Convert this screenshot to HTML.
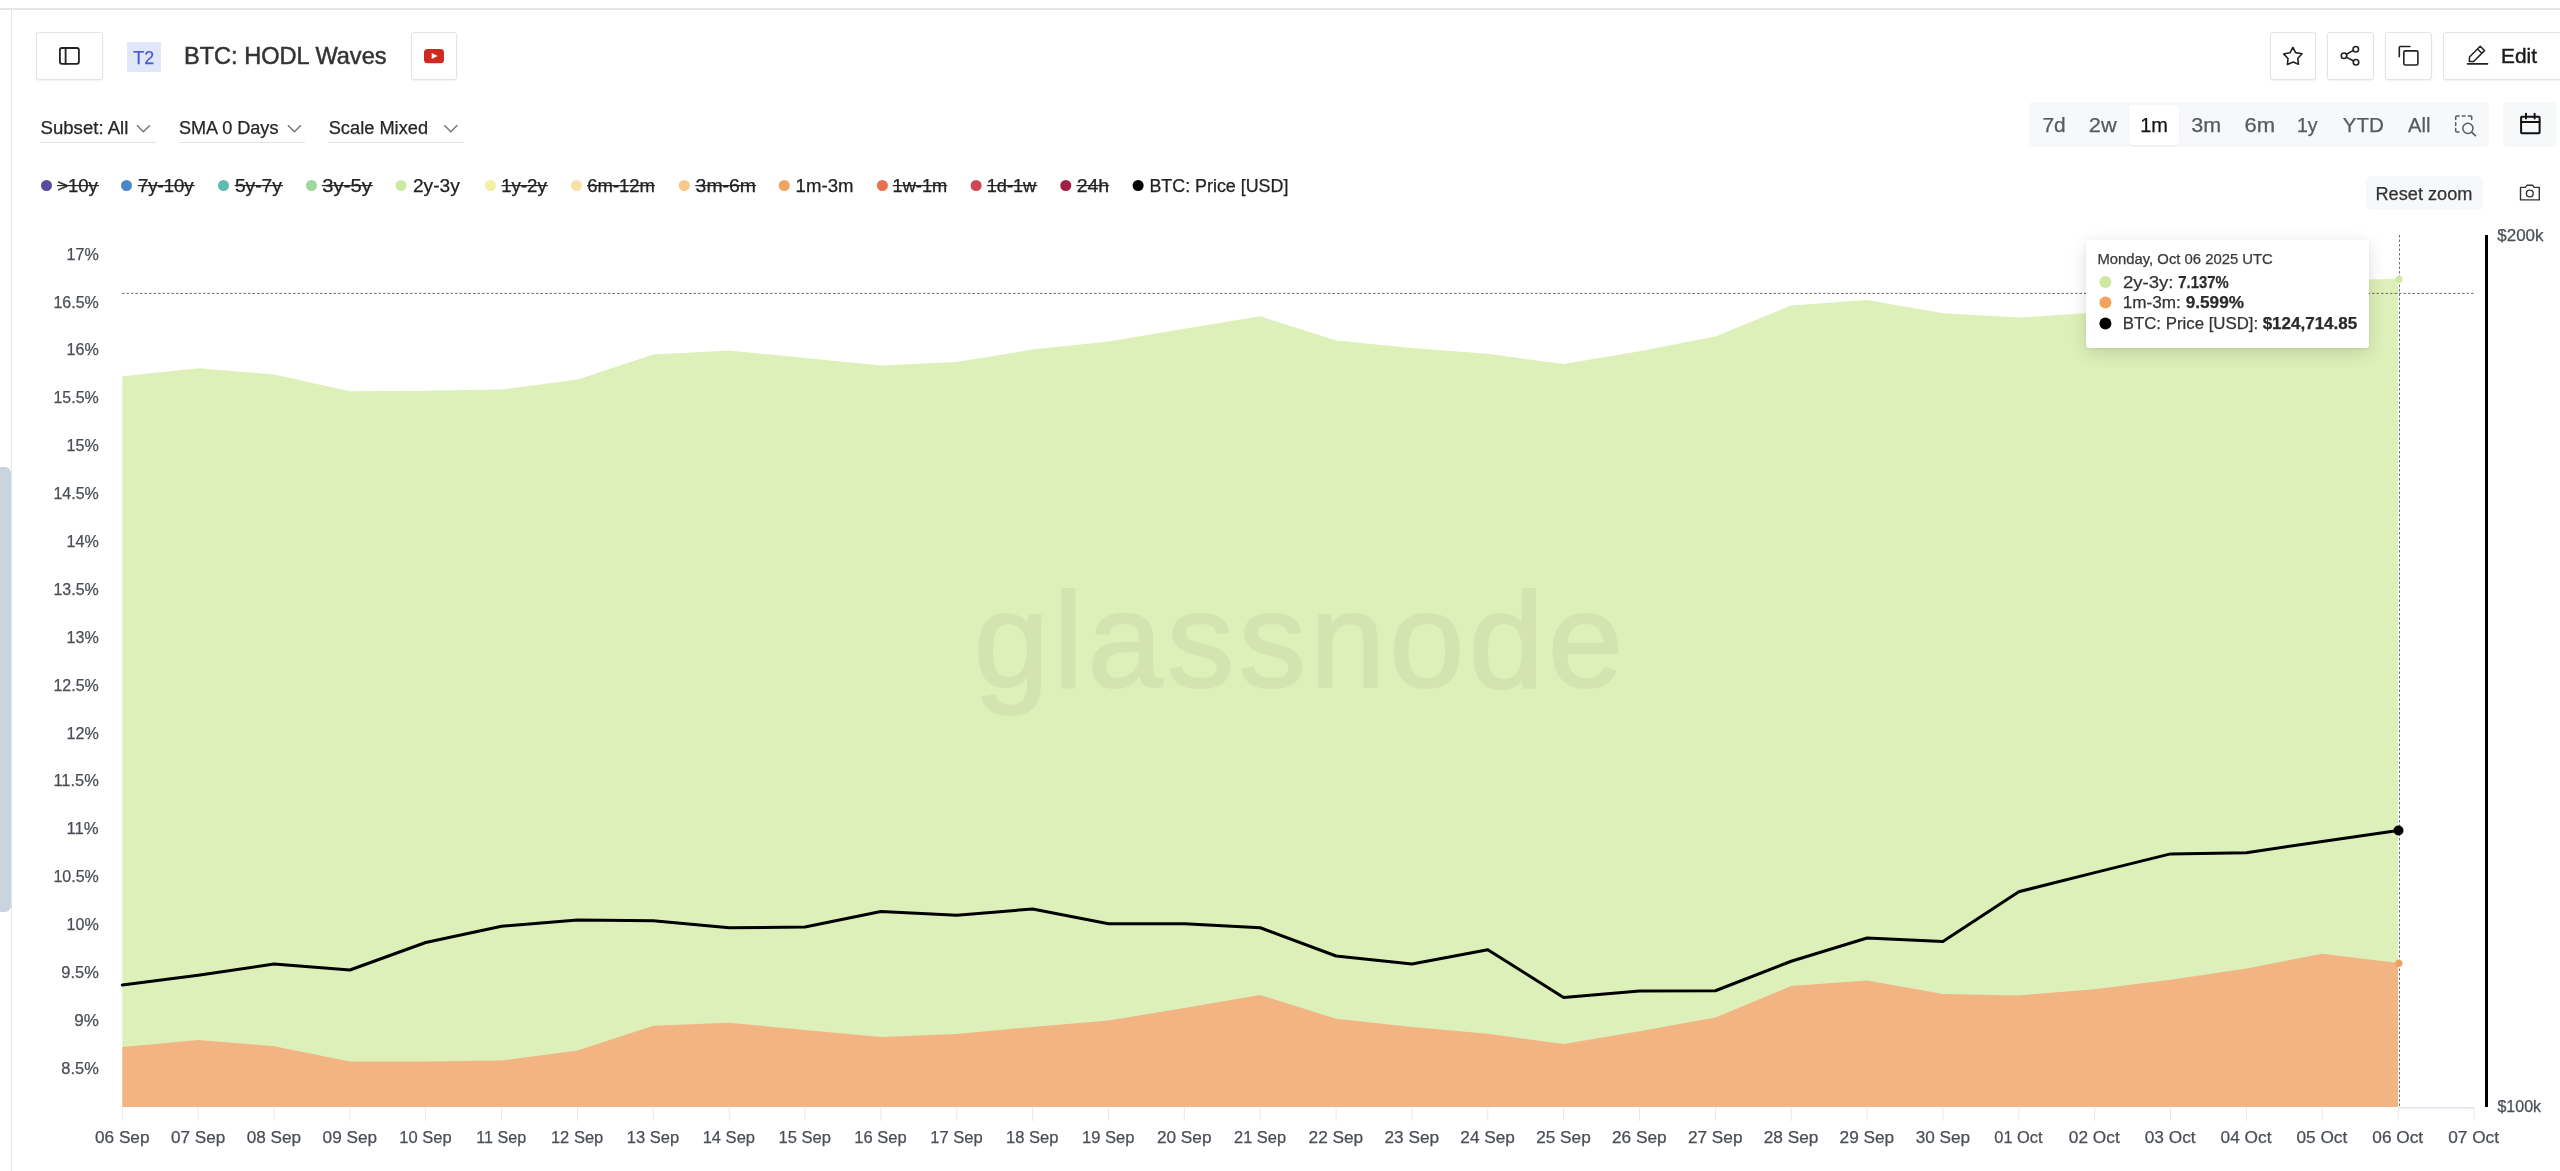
<!DOCTYPE html>
<html><head><meta charset="utf-8"><title>BTC: HODL Waves</title>
<style>
*{box-sizing:border-box;margin:0;padding:0}
html,body{width:2560px;height:1171px;overflow:hidden;background:#fff}
body{position:relative;font-family:"Liberation Sans",Arial,sans-serif;color:#222}
.abs{position:absolute}
.topline{position:absolute;left:0;top:8px;width:2560px;height:2px;background:#e6e6e6}
.leftline{position:absolute;left:11px;top:9px;width:1px;height:1162px;background:#e6e6e6}
.scroll{position:absolute;left:-6px;top:467px;width:17px;height:445px;background:#cad4de;border-radius:6px}
.btn{position:absolute;top:32px;height:48px;border:1px solid #e3e3e3;border-radius:3px;background:#fff;box-shadow:0 1px 2px rgba(0,0,0,.06)}
.btn svg{position:absolute}
.t2{position:absolute;left:127px;top:42px;width:34px;height:30px;background:#e1e6f9}
.sel{position:absolute;top:142px;height:1px;background:#e2e4e8}
.seg{position:absolute;left:2029px;top:102px;width:460px;height:45px;background:#f6f8fa;border-radius:4px}
.seg .act{position:absolute;left:100px;top:3px;width:50px;height:40px;background:#fff;border-radius:4px;box-shadow:0 1px 2px rgba(0,0,0,.06)}
.cal{position:absolute;left:2503px;top:102px;width:54px;height:45px;background:#f6f8fa;border-radius:4px}
.reset{position:absolute;left:2366px;top:176px;width:117px;height:34px;background:#f6f8fa;border-radius:5px}
.tip{position:absolute;left:2086px;top:240px;width:283px;height:108px;background:#fff;border-radius:3px;box-shadow:0 5px 18px rgba(0,0,0,.13),0 1px 3px rgba(0,0,0,.06)}
svg text{font-family:"Liberation Sans",Arial,sans-serif}
</style></head><body>
<div class="topline"></div>
<div class="leftline"></div>
<div class="scroll"></div>

<div class="btn" style="left:36px;width:67px"></div>
<div class="t2"></div>
<div class="btn" style="left:411px;width:46px"></div>

<div class="btn" style="left:2270px;width:46px"></div>
<div class="btn" style="left:2327px;width:47px"></div>
<div class="btn" style="left:2385px;width:47px"></div>
<div class="btn" style="left:2443px;width:140px"></div>

<div class="sel" style="left:40px;width:116px"></div>
<div class="sel" style="left:179px;width:126px"></div>
<div class="sel" style="left:328px;width:136px"></div>

<div class="seg"><div class="act"></div></div>
<div class="cal"></div>

<div class="reset"></div>

<svg class="abs" style="left:0;top:0" width="2560" height="1171" viewBox="0 0 2560 1171">
<polygon points="122.3,376.25 198.2,368.25 274.0,374.50 349.9,391.25 425.7,390.75 501.6,389.50 577.5,379.50 653.3,354.50 729.2,350.50 805.0,358.00 880.9,365.50 956.8,362.00 1032.6,349.50 1108.5,341.50 1184.3,328.75 1260.2,316.25 1336.1,340.50 1411.9,348.00 1487.8,353.75 1563.6,364.00 1639.5,351.25 1715.4,336.50 1791.2,305.50 1867.1,300.00 1942.9,313.30 2018.8,317.50 2094.7,312.50 2170.5,300.00 2246.4,290.00 2322.2,280.50 2398.1,278.80 2398.1,1107 122.3,1107" fill="#def0b9"/>
<polygon points="122.3,1047.00 198.2,1040.00 274.0,1046.25 349.9,1061.50 425.7,1061.50 501.6,1060.50 577.5,1050.50 653.3,1025.75 729.2,1022.75 805.0,1030.00 880.9,1037.00 956.8,1034.00 1032.6,1027.00 1108.5,1020.50 1184.3,1008.00 1260.2,995.00 1336.1,1018.75 1411.9,1027.00 1487.8,1033.75 1563.6,1044.00 1639.5,1031.25 1715.4,1017.50 1791.2,986.00 1867.1,980.50 1942.9,994.00 2018.8,995.40 2094.7,989.30 2170.5,979.80 2246.4,968.60 2322.2,953.80 2398.1,963.10 2398.1,1107 122.3,1107" fill="#f2b483"/>
<g opacity="0.045"><text x="974" y="687.3" font-size="135" fill="#000" stroke="#000" stroke-width="2.2" textLength="649" lengthAdjust="spacing">glassnode</text></g>
<polyline points="122.3,985.00 198.2,975.20 274.0,964.00 349.9,970.00 425.7,942.50 501.6,926.25 577.5,920.00 653.3,920.75 729.2,927.75 805.0,927.00 880.9,911.50 956.8,915.25 1032.6,909.00 1108.5,923.75 1184.3,923.75 1260.2,927.75 1336.1,956.00 1411.9,964.00 1487.8,949.75 1563.6,997.50 1639.5,991.00 1715.4,990.75 1791.2,961.25 1867.1,938.00 1942.9,941.50 2018.8,891.70 2094.7,872.60 2170.5,853.90 2246.4,852.70 2322.2,841.50 2398.1,830.50" fill="none" stroke="#000" stroke-width="3" stroke-linejoin="round" stroke-linecap="round"/>
<path d="M122 293.4H2474" stroke="#666" stroke-width="1" stroke-dasharray="2.5 2"/>
<path d="M2399.5 235V1107" stroke="#6b7080" stroke-width="1" stroke-dasharray="2.5 2"/>
<path d="M2398 1107.7H2474" stroke="#dfe5ec" stroke-width="1.5"/>
<path d="M122.3 1108V1121M198.2 1108V1121M274.0 1108V1121M349.9 1108V1121M425.7 1108V1121M501.6 1108V1121M577.5 1108V1121M653.3 1108V1121M729.2 1108V1121M805.0 1108V1121M880.9 1108V1121M956.8 1108V1121M1032.6 1108V1121M1108.5 1108V1121M1184.3 1108V1121M1260.2 1108V1121M1336.1 1108V1121M1411.9 1108V1121M1487.8 1108V1121M1563.6 1108V1121M1639.5 1108V1121M1715.4 1108V1121M1791.2 1108V1121M1867.1 1108V1121M1942.9 1108V1121M2018.8 1108V1121M2094.7 1108V1121M2170.5 1108V1121M2246.4 1108V1121M2322.2 1108V1121M2398.1 1108V1121M2474.0 1108V1121" stroke="#e3e8ee" stroke-width="1"/>
<rect x="2485" y="235" width="3" height="872" fill="#000"/>
<circle cx="2399" cy="279.3" r="3.6" fill="#cdeaa2"/>
<circle cx="2398.8" cy="963.3" r="3.6" fill="#f0a060"/>
<circle cx="2398.5" cy="830.5" r="5" fill="#000"/>
</svg>

<div class="tip"></div>

<svg class="abs" style="left:0;top:0;will-change:transform" width="2560" height="1171" viewBox="0 0 2560 1171">

<g fill="none" stroke-linejoin="round" stroke-linecap="round">
<rect x="59.9" y="48" width="19" height="15.8" rx="2" stroke="#222" stroke-width="1.8"/>
<path d="M65.6 48V63.8" stroke="#222" stroke-width="1.8"/>
<path d="M2292.9 47.4L2295.6 52.6L2302.1 53.8L2297.8 58.3L2298.4 64.2L2293.2 62L2287.4 64.4L2288 58.5L2283.6 54L2290 52.8Z" stroke="#222" stroke-width="1.6"/>
<circle cx="2355.8" cy="49.2" r="2.75" stroke="#222" stroke-width="1.6"/>
<circle cx="2344" cy="55.7" r="2.75" stroke="#222" stroke-width="1.6"/>
<circle cx="2356" cy="62.3" r="2.75" stroke="#222" stroke-width="1.6"/>
<path d="M2346.4 54.3L2353.4 50.4M2346.4 57.1L2353.6 61" stroke="#222" stroke-width="1.6"/>
<path d="M2399.3 56.7V47.5Q2399.3 46.5 2400.3 46.5H2409.9" stroke="#222" stroke-width="1.6"/>
<rect x="2403.8" y="50.9" width="14.1" height="14.05" rx="1.5" stroke="#222" stroke-width="1.6"/>
<path d="M2469.5 57L2480.2 46.3L2484.5 50.6L2473.6 61.5H2469.3Z M2477.6 49L2481.3 52.7" stroke="#222" stroke-width="1.5"/>
<path d="M2467.6 63.8H2487.4" stroke="#222" stroke-width="1.8"/>
<path d="M136.9 125.3L143.4 131.7L149.9 125.3M287.9 125.3L294.4 131.7L300.9 125.3M444.3 125.3L450.8 131.7L457.3 125.3" stroke="#777" stroke-width="1.5" stroke-linejoin="miter" stroke-linecap="butt"/>
<path d="M2455.7 119.5V116.9Q2455.7 115.9 2456.7 115.9H2459.1M2462.3 115.9H2465M2468.3 115.9H2470.7Q2471.7 115.9 2471.7 116.9V119.5M2455.7 122.8V125.4M2455.7 128.5V130.9Q2455.7 131.9 2456.7 131.9H2459" stroke="#555a60" stroke-width="1.5"/>
<circle cx="2467.9" cy="128.3" r="5.1" stroke="#555a60" stroke-width="1.5"/>
<path d="M2471.8 132.3L2475.4 135.6" stroke="#555a60" stroke-width="1.6"/>
<rect x="2521.1" y="116.7" width="18.5" height="16.6" rx="0.8" stroke="#111" stroke-width="2"/>
<path d="M2521.1 122H2539.6M2526 113.8V118.5M2534.6 113.8V118.5" stroke="#111" stroke-width="2"/>
<path d="M2520.5 187.4H2525.3L2527.1 185.3H2532.8L2534.1 187.4H2539.3V199.9H2520.5Z" stroke="#333" stroke-width="1.4"/>
<circle cx="2529.8" cy="193.5" r="3.4" stroke="#333" stroke-width="1.4"/>
</g>
<rect x="424" y="48.9" width="20" height="14.4" rx="3.5" fill="#d02a20"/>
<path d="M431.7 52.9L437.6 56L431.7 59Z" fill="#fff"/>

<circle cx="46.50" cy="185.5" r="5.5" fill="#5b4b9f"/>
<rect x="57.00" y="185" width="42.00" height="1.2" fill="#2a2a2a"/>
<circle cx="126.50" cy="185.5" r="5.5" fill="#4a86c8"/>
<rect x="137.75" y="185" width="57.00" height="1.2" fill="#2a2a2a"/>
<circle cx="223.50" cy="185.5" r="5.5" fill="#5cbcae"/>
<rect x="234.60" y="185" width="48.40" height="1.2" fill="#2a2a2a"/>
<circle cx="311.50" cy="185.5" r="5.5" fill="#9ed79f"/>
<rect x="322.00" y="185" width="50.90" height="1.2" fill="#2a2a2a"/>
<circle cx="401.10" cy="185.5" r="5.5" fill="#cbeaa0"/>
<circle cx="490.50" cy="185.5" r="5.5" fill="#f3f0a2"/>
<rect x="501.50" y="185" width="46.40" height="1.2" fill="#2a2a2a"/>
<circle cx="576.50" cy="185.5" r="5.5" fill="#f9e1a6"/>
<rect x="587.00" y="185" width="68.00" height="1.2" fill="#2a2a2a"/>
<circle cx="684.25" cy="185.5" r="5.5" fill="#f6c98a"/>
<rect x="695.25" y="185" width="60.75" height="1.2" fill="#2a2a2a"/>
<circle cx="784.25" cy="185.5" r="5.5" fill="#f2a35f"/>
<circle cx="882.40" cy="185.5" r="5.5" fill="#e8704d"/>
<rect x="892.75" y="185" width="54.50" height="1.2" fill="#2a2a2a"/>
<circle cx="976.10" cy="185.5" r="5.5" fill="#cf4654"/>
<rect x="986.90" y="185" width="50.50" height="1.2" fill="#2a2a2a"/>
<circle cx="1065.80" cy="185.5" r="5.5" fill="#a11e45"/>
<rect x="1076.50" y="185" width="32.50" height="1.2" fill="#2a2a2a"/>
<circle cx="1138.10" cy="185.5" r="5.5" fill="#000000"/>
<circle cx="2105.4" cy="281.9" r="6" fill="#cbeaa0"/><circle cx="2105.4" cy="302.6" r="6" fill="#f2a35f"/><circle cx="2105.4" cy="323.6" r="6" fill="#000"/>
<text x="133.37" y="63.60" font-size="19" textLength="20.85" lengthAdjust="spacingAndGlyphs" fill="#4b5bd0" stroke="#4b5bd0" stroke-width="0.25">T2</text>
<text x="183.96" y="64.00" font-size="24.4" textLength="202.60" lengthAdjust="spacingAndGlyphs" fill="#333333" stroke="#333333" stroke-width="0.5">BTC: HODL Waves</text>
<text x="2501.06" y="63.10" font-size="20.9" textLength="35.89" lengthAdjust="spacingAndGlyphs" fill="#1a1a1a" stroke="#1a1a1a" stroke-width="0.45">Edit</text>
<text x="40.49" y="133.80" font-size="18" textLength="87.89" lengthAdjust="spacingAndGlyphs" fill="#262626" stroke="#262626" stroke-width="0.25">Subset: All</text>
<text x="178.91" y="133.80" font-size="18" textLength="99.53" lengthAdjust="spacingAndGlyphs" fill="#262626" stroke="#262626" stroke-width="0.25">SMA 0 Days</text>
<text x="328.70" y="133.80" font-size="18" textLength="99.39" lengthAdjust="spacingAndGlyphs" fill="#262626" stroke="#262626" stroke-width="0.25">Scale Mixed</text>
<text x="2042.38" y="131.80" font-size="21" textLength="23.31" lengthAdjust="spacingAndGlyphs" fill="#555a60" stroke="#555a60" stroke-width="0.25">7d</text>
<text x="2088.83" y="131.80" font-size="21" textLength="27.90" lengthAdjust="spacingAndGlyphs" fill="#555a60" stroke="#555a60" stroke-width="0.25">2w</text>
<text x="2140.23" y="131.80" font-size="21" textLength="27.74" lengthAdjust="spacingAndGlyphs" fill="#111111" stroke="#111111" stroke-width="0.25">1m</text>
<text x="2191.36" y="131.80" font-size="21" textLength="29.89" lengthAdjust="spacingAndGlyphs" fill="#555a60" stroke="#555a60" stroke-width="0.25">3m</text>
<text x="2244.53" y="131.80" font-size="21" textLength="30.55" lengthAdjust="spacingAndGlyphs" fill="#555a60" stroke="#555a60" stroke-width="0.25">6m</text>
<text x="2296.96" y="131.80" font-size="21" textLength="20.66" lengthAdjust="spacingAndGlyphs" fill="#555a60" stroke="#555a60" stroke-width="0.25">1y</text>
<text x="2342.81" y="131.80" font-size="21" textLength="41.10" lengthAdjust="spacingAndGlyphs" fill="#555a60" stroke="#555a60" stroke-width="0.25">YTD</text>
<text x="2408.03" y="131.80" font-size="21" textLength="22.40" lengthAdjust="spacingAndGlyphs" fill="#555a60" stroke="#555a60" stroke-width="0.25">All</text>
<text x="57.20" y="191.60" font-size="18" textLength="40.69" lengthAdjust="spacingAndGlyphs" fill="#222222" stroke="#222222" stroke-width="0.25">&gt;10y</text>
<text x="137.95" y="191.60" font-size="18" textLength="55.70" lengthAdjust="spacingAndGlyphs" fill="#222222" stroke="#222222" stroke-width="0.25">7y-10y</text>
<text x="234.96" y="191.60" font-size="18" textLength="46.91" lengthAdjust="spacingAndGlyphs" fill="#222222" stroke="#222222" stroke-width="0.25">5y-7y</text>
<text x="322.32" y="191.60" font-size="18" textLength="49.44" lengthAdjust="spacingAndGlyphs" fill="#222222" stroke="#222222" stroke-width="0.25">3y-5y</text>
<text x="412.92" y="191.60" font-size="18" textLength="46.95" lengthAdjust="spacingAndGlyphs" fill="#222222" stroke="#222222" stroke-width="0.25">2y-3y</text>
<text x="501.23" y="191.60" font-size="18" textLength="45.55" lengthAdjust="spacingAndGlyphs" fill="#222222" stroke="#222222" stroke-width="0.25">1y-2y</text>
<text x="587.20" y="191.60" font-size="18" textLength="67.83" lengthAdjust="spacingAndGlyphs" fill="#222222" stroke="#222222" stroke-width="0.25">6m-12m</text>
<text x="695.60" y="191.60" font-size="18" textLength="60.45" lengthAdjust="spacingAndGlyphs" fill="#222222" stroke="#222222" stroke-width="0.25">3m-6m</text>
<text x="795.63" y="191.60" font-size="18" textLength="57.88" lengthAdjust="spacingAndGlyphs" fill="#222222" stroke="#222222" stroke-width="0.25">1m-3m</text>
<text x="892.51" y="191.60" font-size="18" textLength="54.72" lengthAdjust="spacingAndGlyphs" fill="#222222" stroke="#222222" stroke-width="0.25">1w-1m</text>
<text x="986.66" y="191.60" font-size="18" textLength="49.59" lengthAdjust="spacingAndGlyphs" fill="#222222" stroke="#222222" stroke-width="0.25">1d-1w</text>
<text x="1076.65" y="191.60" font-size="18" textLength="32.54" lengthAdjust="spacingAndGlyphs" fill="#222222" stroke="#222222" stroke-width="0.25">24h</text>
<text x="1149.40" y="191.60" font-size="18" textLength="139.00" lengthAdjust="spacingAndGlyphs" fill="#222222" stroke="#222222" stroke-width="0.25">BTC: Price [USD]</text>
<text x="2375.47" y="200.00" font-size="18" textLength="97.00" lengthAdjust="spacingAndGlyphs" fill="#333333" stroke="#333333" stroke-width="0.25">Reset zoom</text>
<text x="66.52" y="259.70" font-size="17" textLength="32.26" lengthAdjust="spacingAndGlyphs" fill="#4a4e55" stroke="#4a4e55" stroke-width="0.25">17%</text>
<text x="53.43" y="307.59" font-size="17" textLength="45.33" lengthAdjust="spacingAndGlyphs" fill="#4a4e55" stroke="#4a4e55" stroke-width="0.25">16.5%</text>
<text x="66.52" y="355.48" font-size="17" textLength="32.26" lengthAdjust="spacingAndGlyphs" fill="#4a4e55" stroke="#4a4e55" stroke-width="0.25">16%</text>
<text x="53.43" y="403.37" font-size="17" textLength="45.33" lengthAdjust="spacingAndGlyphs" fill="#4a4e55" stroke="#4a4e55" stroke-width="0.25">15.5%</text>
<text x="66.52" y="451.26" font-size="17" textLength="32.26" lengthAdjust="spacingAndGlyphs" fill="#4a4e55" stroke="#4a4e55" stroke-width="0.25">15%</text>
<text x="53.43" y="499.15" font-size="17" textLength="45.33" lengthAdjust="spacingAndGlyphs" fill="#4a4e55" stroke="#4a4e55" stroke-width="0.25">14.5%</text>
<text x="66.52" y="547.04" font-size="17" textLength="32.26" lengthAdjust="spacingAndGlyphs" fill="#4a4e55" stroke="#4a4e55" stroke-width="0.25">14%</text>
<text x="53.43" y="594.93" font-size="17" textLength="45.33" lengthAdjust="spacingAndGlyphs" fill="#4a4e55" stroke="#4a4e55" stroke-width="0.25">13.5%</text>
<text x="66.52" y="642.82" font-size="17" textLength="32.26" lengthAdjust="spacingAndGlyphs" fill="#4a4e55" stroke="#4a4e55" stroke-width="0.25">13%</text>
<text x="53.43" y="690.71" font-size="17" textLength="45.33" lengthAdjust="spacingAndGlyphs" fill="#4a4e55" stroke="#4a4e55" stroke-width="0.25">12.5%</text>
<text x="66.52" y="738.60" font-size="17" textLength="32.26" lengthAdjust="spacingAndGlyphs" fill="#4a4e55" stroke="#4a4e55" stroke-width="0.25">12%</text>
<text x="53.39" y="786.49" font-size="17" textLength="45.39" lengthAdjust="spacingAndGlyphs" fill="#4a4e55" stroke="#4a4e55" stroke-width="0.25">11.5%</text>
<text x="66.47" y="834.38" font-size="17" textLength="32.25" lengthAdjust="spacingAndGlyphs" fill="#4a4e55" stroke="#4a4e55" stroke-width="0.25">11%</text>
<text x="53.43" y="882.27" font-size="17" textLength="45.33" lengthAdjust="spacingAndGlyphs" fill="#4a4e55" stroke="#4a4e55" stroke-width="0.25">10.5%</text>
<text x="66.52" y="930.16" font-size="17" textLength="32.26" lengthAdjust="spacingAndGlyphs" fill="#4a4e55" stroke="#4a4e55" stroke-width="0.25">10%</text>
<text x="61.29" y="978.05" font-size="17" textLength="37.46" lengthAdjust="spacingAndGlyphs" fill="#4a4e55" stroke="#4a4e55" stroke-width="0.25">9.5%</text>
<text x="74.16" y="1025.94" font-size="17" textLength="24.62" lengthAdjust="spacingAndGlyphs" fill="#4a4e55" stroke="#4a4e55" stroke-width="0.25">9%</text>
<text x="61.29" y="1073.83" font-size="17" textLength="37.46" lengthAdjust="spacingAndGlyphs" fill="#4a4e55" stroke="#4a4e55" stroke-width="0.25">8.5%</text>
<text x="95.04" y="1142.70" font-size="16.9" textLength="54.41" lengthAdjust="spacingAndGlyphs" fill="#4a4e55" stroke="#4a4e55" stroke-width="0.25">06 Sep</text>
<text x="170.90" y="1142.70" font-size="16.9" textLength="54.41" lengthAdjust="spacingAndGlyphs" fill="#4a4e55" stroke="#4a4e55" stroke-width="0.25">07 Sep</text>
<text x="246.76" y="1142.70" font-size="16.9" textLength="54.41" lengthAdjust="spacingAndGlyphs" fill="#4a4e55" stroke="#4a4e55" stroke-width="0.25">08 Sep</text>
<text x="322.62" y="1142.70" font-size="16.9" textLength="54.41" lengthAdjust="spacingAndGlyphs" fill="#4a4e55" stroke="#4a4e55" stroke-width="0.25">09 Sep</text>
<text x="399.20" y="1142.70" font-size="16.9" textLength="52.40" lengthAdjust="spacingAndGlyphs" fill="#4a4e55" stroke="#4a4e55" stroke-width="0.25">10 Sep</text>
<text x="476.37" y="1142.70" font-size="16.9" textLength="49.82" lengthAdjust="spacingAndGlyphs" fill="#4a4e55" stroke="#4a4e55" stroke-width="0.25">11 Sep</text>
<text x="550.92" y="1142.70" font-size="16.9" textLength="52.40" lengthAdjust="spacingAndGlyphs" fill="#4a4e55" stroke="#4a4e55" stroke-width="0.25">12 Sep</text>
<text x="626.78" y="1142.70" font-size="16.9" textLength="52.40" lengthAdjust="spacingAndGlyphs" fill="#4a4e55" stroke="#4a4e55" stroke-width="0.25">13 Sep</text>
<text x="702.64" y="1142.70" font-size="16.9" textLength="52.40" lengthAdjust="spacingAndGlyphs" fill="#4a4e55" stroke="#4a4e55" stroke-width="0.25">14 Sep</text>
<text x="778.50" y="1142.70" font-size="16.9" textLength="52.40" lengthAdjust="spacingAndGlyphs" fill="#4a4e55" stroke="#4a4e55" stroke-width="0.25">15 Sep</text>
<text x="854.36" y="1142.70" font-size="16.9" textLength="52.40" lengthAdjust="spacingAndGlyphs" fill="#4a4e55" stroke="#4a4e55" stroke-width="0.25">16 Sep</text>
<text x="930.22" y="1142.70" font-size="16.9" textLength="52.40" lengthAdjust="spacingAndGlyphs" fill="#4a4e55" stroke="#4a4e55" stroke-width="0.25">17 Sep</text>
<text x="1006.08" y="1142.70" font-size="16.9" textLength="52.40" lengthAdjust="spacingAndGlyphs" fill="#4a4e55" stroke="#4a4e55" stroke-width="0.25">18 Sep</text>
<text x="1081.94" y="1142.70" font-size="16.9" textLength="52.40" lengthAdjust="spacingAndGlyphs" fill="#4a4e55" stroke="#4a4e55" stroke-width="0.25">19 Sep</text>
<text x="1156.90" y="1142.70" font-size="16.9" textLength="54.59" lengthAdjust="spacingAndGlyphs" fill="#4a4e55" stroke="#4a4e55" stroke-width="0.25">20 Sep</text>
<text x="1234.08" y="1142.70" font-size="16.9" textLength="51.98" lengthAdjust="spacingAndGlyphs" fill="#4a4e55" stroke="#4a4e55" stroke-width="0.25">21 Sep</text>
<text x="1308.62" y="1142.70" font-size="16.9" textLength="54.59" lengthAdjust="spacingAndGlyphs" fill="#4a4e55" stroke="#4a4e55" stroke-width="0.25">22 Sep</text>
<text x="1384.48" y="1142.70" font-size="16.9" textLength="54.59" lengthAdjust="spacingAndGlyphs" fill="#4a4e55" stroke="#4a4e55" stroke-width="0.25">23 Sep</text>
<text x="1460.34" y="1142.70" font-size="16.9" textLength="54.59" lengthAdjust="spacingAndGlyphs" fill="#4a4e55" stroke="#4a4e55" stroke-width="0.25">24 Sep</text>
<text x="1536.20" y="1142.70" font-size="16.9" textLength="54.59" lengthAdjust="spacingAndGlyphs" fill="#4a4e55" stroke="#4a4e55" stroke-width="0.25">25 Sep</text>
<text x="1612.06" y="1142.70" font-size="16.9" textLength="54.59" lengthAdjust="spacingAndGlyphs" fill="#4a4e55" stroke="#4a4e55" stroke-width="0.25">26 Sep</text>
<text x="1687.92" y="1142.70" font-size="16.9" textLength="54.59" lengthAdjust="spacingAndGlyphs" fill="#4a4e55" stroke="#4a4e55" stroke-width="0.25">27 Sep</text>
<text x="1763.78" y="1142.70" font-size="16.9" textLength="54.59" lengthAdjust="spacingAndGlyphs" fill="#4a4e55" stroke="#4a4e55" stroke-width="0.25">28 Sep</text>
<text x="1839.64" y="1142.70" font-size="16.9" textLength="54.59" lengthAdjust="spacingAndGlyphs" fill="#4a4e55" stroke="#4a4e55" stroke-width="0.25">29 Sep</text>
<text x="1915.68" y="1142.70" font-size="16.9" textLength="54.41" lengthAdjust="spacingAndGlyphs" fill="#4a4e55" stroke="#4a4e55" stroke-width="0.25">30 Sep</text>
<text x="1994.34" y="1142.70" font-size="16.9" textLength="48.26" lengthAdjust="spacingAndGlyphs" fill="#4a4e55" stroke="#4a4e55" stroke-width="0.25">01 Oct</text>
<text x="2068.89" y="1142.70" font-size="16.9" textLength="50.83" lengthAdjust="spacingAndGlyphs" fill="#4a4e55" stroke="#4a4e55" stroke-width="0.25">02 Oct</text>
<text x="2144.75" y="1142.70" font-size="16.9" textLength="50.83" lengthAdjust="spacingAndGlyphs" fill="#4a4e55" stroke="#4a4e55" stroke-width="0.25">03 Oct</text>
<text x="2220.61" y="1142.70" font-size="16.9" textLength="50.83" lengthAdjust="spacingAndGlyphs" fill="#4a4e55" stroke="#4a4e55" stroke-width="0.25">04 Oct</text>
<text x="2296.47" y="1142.70" font-size="16.9" textLength="50.83" lengthAdjust="spacingAndGlyphs" fill="#4a4e55" stroke="#4a4e55" stroke-width="0.25">05 Oct</text>
<text x="2372.33" y="1142.70" font-size="16.9" textLength="50.83" lengthAdjust="spacingAndGlyphs" fill="#4a4e55" stroke="#4a4e55" stroke-width="0.25">06 Oct</text>
<text x="2448.19" y="1142.70" font-size="16.9" textLength="50.83" lengthAdjust="spacingAndGlyphs" fill="#4a4e55" stroke="#4a4e55" stroke-width="0.25">07 Oct</text>
<text x="2497.26" y="240.60" font-size="16.5" textLength="46.31" lengthAdjust="spacingAndGlyphs" fill="#4a4e55" stroke="#4a4e55" stroke-width="0.25">$200k</text>
<text x="2497.46" y="1111.80" font-size="16.5" textLength="43.61" lengthAdjust="spacingAndGlyphs" fill="#4a4e55" stroke="#4a4e55" stroke-width="0.25">$100k</text>
<text x="2097.44" y="264.10" font-size="13.8" textLength="175.34" lengthAdjust="spacingAndGlyphs" fill="#3a3a3a" stroke="#3a3a3a" stroke-width="0.25">Monday, Oct 06 2025 UTC</text>
<text x="2122.95" y="287.80" font-size="17" textLength="50.53" lengthAdjust="spacingAndGlyphs" fill="#333333" stroke="#333333" stroke-width="0.25">2y-3y:</text>
<text x="2178.28" y="287.80" font-size="17" textLength="50.35" lengthAdjust="spacingAndGlyphs" fill="#2a2a2a" stroke="#2a2a2a" stroke-width="0.25" font-weight="bold">7.137%</text>
<text x="2122.84" y="308.20" font-size="17" textLength="58.05" lengthAdjust="spacingAndGlyphs" fill="#333333" stroke="#333333" stroke-width="0.25">1m-3m:</text>
<text x="2185.77" y="308.20" font-size="17" textLength="58.22" lengthAdjust="spacingAndGlyphs" fill="#2a2a2a" stroke="#2a2a2a" stroke-width="0.25" font-weight="bold">9.599%</text>
<text x="2122.68" y="328.90" font-size="17" textLength="135.54" lengthAdjust="spacingAndGlyphs" fill="#333333" stroke="#333333" stroke-width="0.25">BTC: Price [USD]:</text>
<text x="2262.67" y="328.90" font-size="17" textLength="94.55" lengthAdjust="spacingAndGlyphs" fill="#2a2a2a" stroke="#2a2a2a" stroke-width="0.25" font-weight="bold">$124,714.85</text>
</svg>
</body></html>
